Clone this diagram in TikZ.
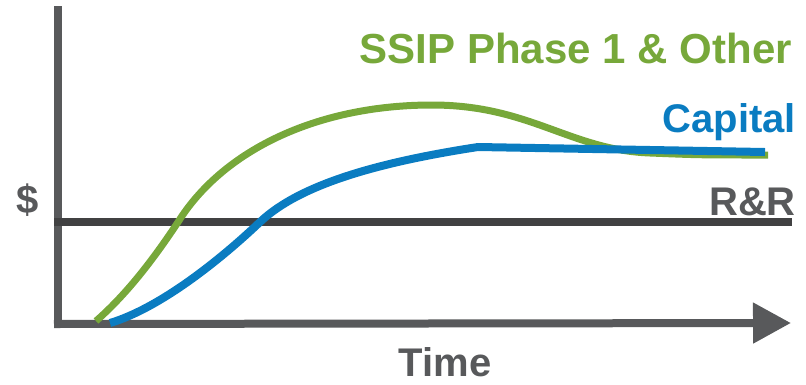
\documentclass[tikz,border=0pt]{standalone}
\usepackage{fontspec}
\setmainfont{Liberation Sans}
\usepackage{tikz}
\usetikzlibrary{arrows.meta, positioning}

\definecolor{axisgray}{HTML}{58595B}
\definecolor{rrgray}{HTML}{414142}
\definecolor{ssipgreen}{HTML}{77A83A}
\definecolor{capblue}{HTML}{0A7CC1}

\begin{document}
\begin{tikzpicture}[x=1pt, y=-1pt, >=stealth]
    \tikzstyle{label} = [inner sep=0pt, font=\bfseries\fontsize{40}{48}\selectfont]
    \tikzstyle{axis} = [draw, axisgray, line width=8pt]
    \tikzstyle{curve} = [draw, line width=7pt]

    \useasboundingbox (0,0) rectangle (806,384);

    % Axes
    \coordinate (ytop) at (58,6);
    \coordinate (ybot) at (58,326);
    \coordinate (xleft) at (54,324);
    \coordinate (xright) at (791,323);
    \path[axis] (ytop) -- (ybot);
    \path[axis, -{Triangle[length=38pt, width=39pt]}] (xleft) -- (xright);

    % R&R level
    \coordinate (rrleft) at (54,222);
    \coordinate (rrright) at (792,222);
    \path[draw, rrgray, line width=8pt] (rrleft) -- (rrright);

    % Labels
    \node[label, axisgray, anchor=base] (dollar) at (28,213) {\$};
    \node[label, axisgray, anchor=base] (time) at (445,376) {Time};
    \node[label, axisgray, anchor=base east] (rr) at (796,215) {R\&R};
    \node[label, capblue, anchor=base east] (capital) at (796,132) {Capital};
    \node[label, ssipgreen, anchor=base east, font=\bfseries\fontsize{42}{50}\selectfont] (ssip) at (792,63) {SSIP Phase 1 \& Other};

    % Curves
    \coordinate (gstart) at (96,321);
    \coordinate (gmid) at (182,216);
    \coordinate (gpeak) at (432,105);
    \coordinate (gdrop) at (650,153);
    \coordinate (gend) at (768,155);
    \path[curve, ssipgreen]
        (gstart) .. controls (128,293) and (156,256) .. (gmid)
        .. controls (228,148) and (320,105) .. (gpeak)
        .. controls (530,105) and (570,150) .. (gdrop)
        .. controls (700,155) .. (gend);

    \coordinate (bstart) at (110,323);
    \coordinate (bmid) at (260,222);
    \coordinate (bkink) at (478,147);
    \coordinate (bend) at (765,152);
    \path[curve, capblue, line width=8pt]
        (bstart) .. controls (160,308) and (220,260) .. (bmid)
        .. controls (300,184) and (380,162) .. (bkink)
        -- (bend);
\end{tikzpicture}
\end{document}
